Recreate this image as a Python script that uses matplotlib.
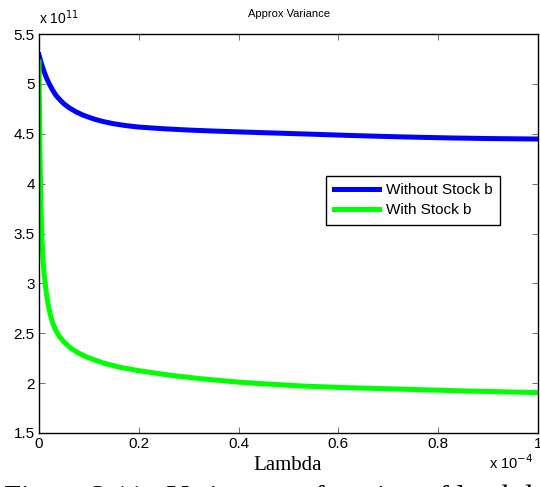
import matplotlib.pyplot as plt

# lambda in units of 1e-4, variance in units of 1e11
lam_without = [0, 0.005, 0.01, 0.015, 0.02, 0.027, 0.034, 0.042, 0.05, 0.06,
               0.074, 0.09, 0.11, 0.128, 0.15, 0.175, 0.2, 0.25, 0.3, 0.35,
               0.423, 0.5, 0.55, 0.623, 0.7, 0.75, 0.824, 0.9, 1.0]
var_without = [5.29, 5.20, 5.125, 5.06, 5.005, 4.94, 4.885, 4.84, 4.80, 4.762,
               4.72, 4.683, 4.648, 4.623, 4.60, 4.581, 4.567, 4.55, 4.537, 4.527,
               4.515, 4.503, 4.495, 4.483, 4.472, 4.466, 4.458, 4.452, 4.447]

lam_with = [0, 0.002, 0.004, 0.006, 0.008, 0.01, 0.014, 0.018, 0.022, 0.027,
            0.032, 0.04, 0.047, 0.055, 0.065, 0.078, 0.094, 0.11, 0.13, 0.161,
            0.2, 0.261, 0.323, 0.4, 0.45, 0.523, 0.6, 0.723, 0.85, 1.0]
var_with = [5.22, 4.3, 3.75, 3.43, 3.24, 3.11, 2.93, 2.80, 2.70, 2.61,
            2.545, 2.475, 2.43, 2.39, 2.345, 2.305, 2.265, 2.235, 2.20, 2.16,
            2.125, 2.08, 2.045, 2.01, 1.993, 1.972, 1.957, 1.94, 1.922, 1.905]

xticks = [0, 0.2, 0.4, 0.6, 0.8, 1.0]
xticklabels = ['0', '0.2', '0.4', '0.6', '0.8', '1']
yticks = [1.5, 2, 2.5, 3, 3.5, 4, 4.5, 5, 5.5]
yticklabels = ['1.5', '2', '2.5', '3', '3.5', '4', '4.5', '5', '5.5']

plt.rcParams['font.family'] = 'Liberation Sans'

fig = plt.figure(figsize=(5.4, 4.87), dpi=100)
ax = fig.add_axes([39 / 540, 54 / 487, 499 / 540, 399 / 487])

ax.plot(lam_without, var_without, color='#0000ff', lw=3.6,
        label='Without Stock b', solid_joinstyle='round')
ax.plot(lam_with, var_with, color='#00ff00', lw=3.6,
        label='With Stock b', solid_joinstyle='round')

ax.set_xlim(0, 1)
ax.set_ylim(1.5, 5.5)
ax.set_xticks(xticks)
ax.set_xticklabels(xticklabels)
ax.set_yticks(yticks)
ax.set_yticklabels(yticklabels)
ax.tick_params(direction='in', top=True, right=True, length=4, width=0.6,
               labelsize=11, pad=3, color='#555555')
for s in ax.spines.values():
    s.set_linewidth(1.0)

ax.set_title('Approx Variance', fontsize=8, pad=12)

leg = ax.legend(loc='upper left', bbox_to_anchor=(0.575, 0.645),
                borderaxespad=0, fancybox=False, framealpha=1,
                edgecolor='black', fontsize=11, handlelength=3.0,
                borderpad=0.5, labelspacing=0.4, handletextpad=0.4)
leg.get_frame().set_linewidth(1.0)

# exponent labels
fig.text(39 / 540, 1 - 18 / 487, r'x 10$^{11}$', fontsize=10,
         ha='left', va='center')
fig.text(533 / 540, 1 - 463 / 487, r'x 10$^{-4}$', fontsize=10.5,
         ha='right', va='center')

fig.text(288 / 540, 1 - 465 / 487, 'Lambda', family='Liberation Serif',
         fontsize=15, ha='center', va='center')

# caption line, cut by the page edge
fig.text(4 / 540, 1 - 507 / 487, 'Figure 3.11:  Variance as function of lambda',
         family='Liberation Serif', fontsize=22, ha='left', va='baseline')

fig.savefig('out.png', dpi=100)
